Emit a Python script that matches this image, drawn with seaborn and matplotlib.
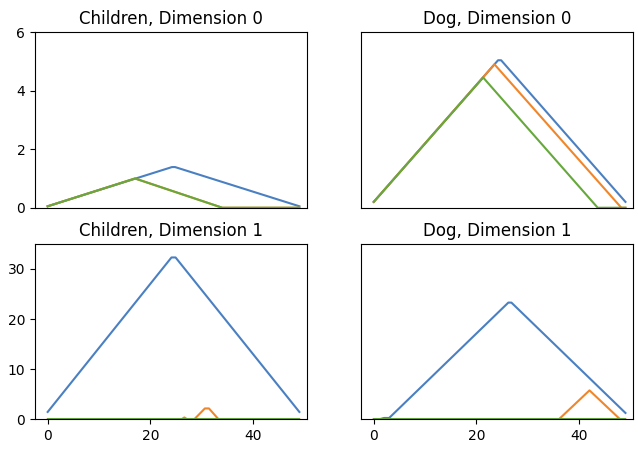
import matplotlib
matplotlib.use("Agg")
import matplotlib.pyplot as plt
import seaborn as sns

# line colours
c_blue = "#4a80c2"
c_orange = "#f0862a"
c_green = "#66a83c"

# Children, Dimension 0 (breakpoints of each line)
ch0_blue_x = [0, 24.2, 24.8, 49]
ch0_blue_y = [0.05, 1.39, 1.39, 0.05]
ch0_orange_x = [0, 17, 34, 49]
ch0_orange_y = [0.05, 1.0, 0.0, 0.0]
ch0_green_x = [0, 17, 34, 49]
ch0_green_y = [0.05, 1.0, 0.0, 0.0]

# Dog, Dimension 0
dog0_blue_x = [0, 24.2, 24.8, 49]
dog0_blue_y = [0.2, 5.04, 5.04, 0.2]
dog0_orange_x = [0, 23.5, 48.2, 49]
dog0_orange_y = [0.2, 4.9, 0.0, 0.0]
dog0_green_x = [0, 21.3, 43.6, 49]
dog0_green_y = [0.2, 4.45, 0.0, 0.0]

# Children, Dimension 1
ch1_blue_x = [0, 24.1, 24.9, 49]
ch1_blue_y = [1.5, 32.3, 32.3, 1.5]
ch1_orange_x = [0, 26, 26.6, 27.2, 28.5, 30.6, 31.4, 33.3, 49]
ch1_orange_y = [0, 0, 0.4, 0, 0, 2.2, 2.2, 0, 0]
ch1_green_x = [0, 49]
ch1_green_y = [0.05, 0.05]

# Dog, Dimension 1
dog1_blue_x = [0, 1, 2, 3, 26.2, 26.8, 49]
dog1_blue_y = [0, 0, 0.3, 0.3, 23.3, 23.3, 1.3]
dog1_orange_x = [0, 36, 42, 48, 49]
dog1_orange_y = [0, 0, 5.8, 0, 0]
dog1_green_x = [0, 49]
dog1_green_y = [0.05, 0.05]

panels = [
    ("Children, Dimension 0", (ch0_blue_x, ch0_blue_y), (ch0_orange_x, ch0_orange_y), (ch0_green_x, ch0_green_y)),
    ("Dog, Dimension 0", (dog0_blue_x, dog0_blue_y), (dog0_orange_x, dog0_orange_y), (dog0_green_x, dog0_green_y)),
    ("Children, Dimension 1", (ch1_blue_x, ch1_blue_y), (ch1_orange_x, ch1_orange_y), (ch1_green_x, ch1_green_y)),
    ("Dog, Dimension 1", (dog1_blue_x, dog1_blue_y), (dog1_orange_x, dog1_orange_y), (dog1_green_x, dog1_green_y)),
]

fig, axes = plt.subplots(2, 2, figsize=(6.38, 4.53), dpi=100)
plt.subplots_adjust(left=0.055, right=0.992, top=0.929, bottom=0.074,
                    wspace=0.2, hspace=0.206)

for ax, (title, b, o, g) in zip(axes.flat, panels):
    for (xs, ys), col in zip([b, o, g], [c_blue, c_orange, c_green]):
        sns.lineplot(x=xs, y=ys, color=col, ax=ax, linewidth=1.5)
    ax.set_title(title, fontsize=12)
    ax.set_xlim(-2.45, 50.45)

for ax in axes[0]:
    ax.set_ylim(0, 6)
    ax.set_xticks([])
for ax in axes[1]:
    ax.set_ylim(0, 35)
    ax.set_xticks([0, 20, 40])
axes[0, 0].set_yticks([0, 2, 4, 6])
axes[1, 0].set_yticks([0, 10, 20, 30])
axes[0, 1].set_yticks([])
axes[1, 1].set_yticks([])

plt.savefig("out.png", dpi=100)
